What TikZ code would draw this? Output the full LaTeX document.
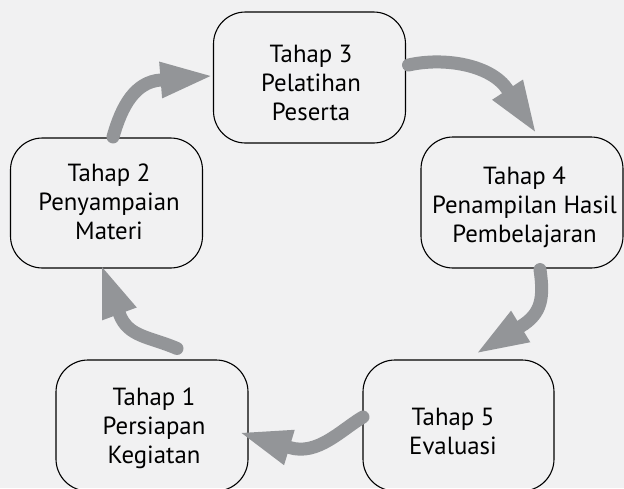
\documentclass[tikz,border=0pt]{standalone}
\usepackage{fontspec}
\setmainfont{PT Sans}
\usetikzlibrary{arrows.meta,calc}
\definecolor{bg}{RGB}{241,241,242}
\definecolor{arr}{RGB}{147,149,152}
\begin{document}
\begin{tikzpicture}[x=1pt,y=-1pt,
  stage/.style={draw=black, line width=1.1pt, rounded corners=32pt,
    minimum width=192pt, minimum height=131pt, inner sep=0pt},
  stagetext/.style={align=center, inner sep=0pt,
    font=\fontsize{24.8}{29}\selectfont},
  flow/.style={draw=arr, line width=13pt, line cap=round,
    -{Triangle[length=50pt,width=37pt,line width=0pt]}}]
\fill[bg] (0,0) rectangle (624,488);
\useasboundingbox (0,0) rectangle (624,488);

\node[stage] (b3) at (309.5,77.5) {};
\node[stage, minimum height=130pt] (b2) at (106.5,203) {};
\node[stage, minimum width=202pt] (b4) at (522,202.5) {};
\node[stage] (b1) at (152,425.5) {};
\node[stage, minimum width=191pt] (b5) at (458.5,425.5) {};

\node[stagetext] (l3) at ($(b3)+(1.5,7.7)$) {\strut Tahap 3\\\strut Pelatihan\\\strut Peserta};
\node[stagetext] (l2) at ($(b2)+(2.5,1.2)$) {\strut Tahap 2\\\strut Penyampaian\\\strut Materi};
\node[stagetext] (l4) at ($(b4)+(2.5,4.7)$) {\strut Tahap 4\\\strut Penampilan Hasil\\\strut Pembelajaran};
\node[stagetext] (l1) at ($(b1)+(2,2.7)$) {\strut Tahap 1\\\strut Persiapan\\\strut Kegiatan};
\node[stagetext] (l5) at ($(b5)+(-5.5,8.2)$) {\strut Tahap 5\\\strut Evaluasi};

\coordinate (s23) at ($(b2.north)+(6.5,-0.5)$);
\coordinate (t23) at ($(b3.west)+(-2.5,-1.5)$);
\coordinate (s34) at ($(b3.east)+(2.5,-12.5)$);
\coordinate (t34) at ($(b4.north)+(13,-5)$);
\coordinate (s45) at ($(b4.south)+(18,1)$);
\coordinate (t45) at ($(b5.north)+(19.5,-7)$);
\coordinate (s51) at ($(b5.west)+(0.5,-8.5)$);
\coordinate (t51) at ($(b1.east)+(-7,7.5)$);
\coordinate (s12) at ($(b1.north)+(25,-11)$);
\coordinate (t12) at ($(b2.south)+(-4.5,-1.5)$);

\draw[flow] (s23) .. controls +(9,-32) and +(-75,6) .. (t23);
\draw[flow] (s34) .. controls +(35,-8) and +(-44,-67) .. (t34);
\draw[flow] (s45) .. controls +(4,28) and +(64,-39) .. (t45);
\draw[flow] (s51) .. controls +(-22,13) and +(76,23) .. (t51);
\draw[flow] (s12) .. controls +(-28,-12) and +(26,70) .. (t12);
\end{tikzpicture}
\end{document}
